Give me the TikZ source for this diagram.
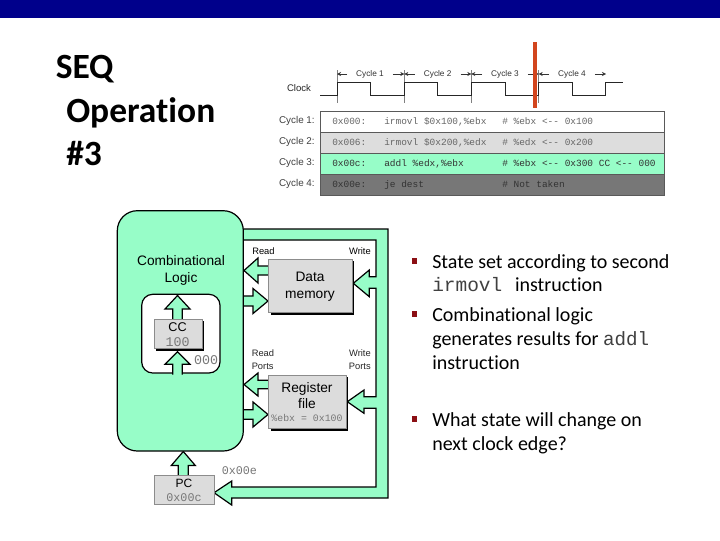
\documentclass[tikz,border=0pt]{standalone}
\usepackage{fontspec}
\setmainfont{Liberation Sans}
\setmonofont{Liberation Mono}
\newfontfamily\bodyfont[Ligatures={NoRequired,NoCommon,NoContextual}]{Carlito}
\definecolor{mint}{HTML}{97FDC8}
\definecolor{navy}{HTML}{00008B}
\definecolor{boxgray}{HTML}{DCDCDC}
\definecolor{rowgray}{HTML}{DDDDDD}
\definecolor{rowdark}{HTML}{777777}
\definecolor{monogray}{HTML}{777777}
\definecolor{clockred}{HTML}{D2451E}
\definecolor{bulletred}{HTML}{8B0F14}
\newcommand{\fs}[1]{\fontsize{#1}{#1}\selectfont}
% tip x, tip y, rotation, length, head length, head half width, shaft half width
\newcommand{\barrow}[7]{%
  \begin{scope}[shift={(#1,#2)},rotate=#3]
    \fill[mint] (0,0) -- (#5,-#6) -- (#5,-#7) -- (#4,-#7) -- (#4,#7) -- (#5,#7) -- (#5,#6) -- cycle;
    \draw[busline] (#4,-#7) -- (#5,-#7) -- (#5,-#6) -- (0,0) -- (#5,#6) -- (#5,#7) -- (#4,#7);
  \end{scope}}
\tikzset{
  x=0.75pt,y=-0.75pt,
  busline/.style={black,line width=0.9pt,line join=miter},
  title/.style={font=\bodyfont\bfseries\fs{26.6},anchor=base west,inner sep=0pt},
  body/.style={font=\bodyfont\fs{15},anchor=base west,inner sep=0pt},
  bullet/.style={fill=bulletred,minimum size=4.2pt,inner sep=0pt},
  rowbox/.style={draw=black!65,line width=0.5pt,minimum width=258pt,minimum height=15.75pt,anchor=north west,inner sep=0pt},
  rowlabel/.style={font=\fs{7.4},anchor=east,inner sep=0pt,text=black!75},
  code/.style={font=\ttfamily\fs{7.1},anchor=base west,inner sep=0pt,text=#1},
  code/.default=black!60,
  cyc/.style={font=\fs{6.2},inner sep=2.6pt,text=black!80},
  clk/.style={black!85,line width=0.7pt},
  tick/.style={black!50,line width=0.6pt},
  cycarrow/.style={black!80,line width=0.4pt,-{Stealth[length=3pt,width=3pt]}},
  graybox/.style={draw=black!45,line width=0.4pt,fill=boxgray,anchor=north west,inner sep=0pt},
  boxshadow/.style={fill=black,anchor=north west,inner sep=0pt},
  big/.style={font=\fs{10.3},align=center,inner sep=0pt},
  small/.style={font=\fs{7},inner sep=0pt,text=black!85},
  mono/.style={font=\ttfamily\fs{7.4},inner sep=0pt,text=monogray},
}
\usetikzlibrary{arrows.meta}
\begin{document}
\begin{tikzpicture}
\useasboundingbox (0,0) rectangle (720,540);
\fill[white] (0,0) rectangle (720,540);
\fill[navy] (0,0) rectangle (720,18);
% title
\node[title] (t1) at (55.5,78.5) {SEQ};
\node[title] (t2) at (66,122.5) {Operation};
\node[title] (t3) at (66,165) {\#3};
% rows
\node[rowbox,fill=white]    (r1) at (320,111) {};
\node[rowbox,fill=rowgray]  (r2) at (320,132) {};
\node[rowbox,fill=mint]     (r3) at (320,153) {};
\node[rowbox,fill=rowdark]  (r4) at (320,174) {};
\node[rowlabel] (l1) at (315,121) {Cycle 1:};
\node[rowlabel] (l2) at (315,142) {Cycle 2:};
\node[rowlabel] (l3) at (315,163) {Cycle 3:};
\node[rowlabel] (l4) at (315,184) {Cycle 4:};
\node[code] (a1) at (332,124.8) {0x000:};
\node[code] (b1) at (384,124.8) {irmovl \$0x100,\%ebx};
\node[code] (c1) at (502,124.8) {\# \%ebx <-{}- 0x100};
\node[code] (a2) at (332,145.8) {0x006:};
\node[code] (b2) at (384,145.8) {irmovl \$0x200,\%edx};
\node[code] (c2) at (502,145.8) {\# \%edx <-{}- 0x200};
\node[code=black!80] (a3) at (332,166.8) {0x00c:};
\node[code=black!80] (b3) at (384,166.8) {addl \%edx,\%ebx};
\node[code=black!80] (c3) at (502,166.8) {\# \%ebx <-{}- 0x300 CC <-{}- 000};
\node[code=black!80] (a4) at (332,187.8) {0x00e:};
\node[code=black!80] (b4) at (384,187.8) {je dest};
\node[code=black!80] (c4) at (502,187.8) {\# Not taken};
% clock
\node[font=\fs{7.2},inner sep=0pt,text=black!85] (clock) at (299,88) {Clock};
\foreach \n/\x in {1/337,2/404.3,3/471.3,4/538.7}
  \coordinate (tk\n) at (\x,74);
\coordinate (tk5) at (606,74);
\foreach \x in {337,404.3,471.3,538.7} \draw[tick] (\x,70) -- (\x,103);
\draw[clk] (320,95.3) -- (337,95.3) -- (337,82.3) -- (370.7,82.3) -- (370.7,95.3) -- (404.3,95.3) -- (404.3,82.3) -- (437.7,82.3) -- (437.7,95.3) -- (471.3,95.3) -- (471.3,82.3) -- (505,82.3) -- (505,95.3) -- (538.7,95.3) -- (538.7,82.3) -- (572.3,82.3) -- (572.3,95.3) -- (605.7,95.3) -- (605.7,82.3) -- (622.7,82.3);
\foreach \n/\x/\nn in {1/370/2,2/437.7/3,3/505/4,4/572/5}{
  \node[cyc] (cy\n) at (\x,74) {Cycle \n};
  \coordinate (cl\n) at ([xshift=-4pt]cy\n.west);
  \coordinate (cr\n) at ([xshift=4pt]cy\n.east);
  \draw[cycarrow] (cl\n) -- (tk\n);
  \draw[cycarrow] (cr\n) -- (tk\nn);
}
\fill[clockred] (533,42) rectangle (537,108);
% block arrows behind the logic block
\fill[mint] (240,229) -- (388,229) -- (388,498) -- (231.7,498) -- (231.7,505) -- (214,492.7) -- (231.7,481) -- (231.7,487) -- (376,487) -- (376,408.3) -- (364,408.3) -- (364,413.3) -- (347.3,401.7) -- (364,390) -- (364,396.7) -- (376,396.7) -- (376,288.3) -- (369.3,288.3) -- (369.3,296.7) -- (353.3,283.3) -- (369.3,270) -- (369.3,276.7) -- (376,276.7) -- (376,240) -- (240,240) -- cycle;
\draw[busline] (240,229) -- (388,229) -- (388,498) -- (231.7,498) -- (231.7,505) -- (214,492.7) -- (231.7,481) -- (231.7,487) -- (376,487) -- (376,408.3) -- (364,408.3) -- (364,413.3) -- (347.3,401.7) -- (364,390) -- (364,396.7) -- (376,396.7) -- (376,288.3) -- (369.3,288.3) -- (369.3,296.7) -- (353.3,283.3) -- (369.3,270) -- (369.3,276.7) -- (376,276.7) -- (376,240) -- (240,240);
\barrow{244}{270.5}{0}{26}{14}{12.5}{4.5}
\barrow{268}{301}{180}{28}{15}{12.5}{5}
\barrow{244}{384.5}{0}{26}{14}{11.5}{4.3}
\barrow{268}{414.5}{180}{28}{15}{12.5}{4.7}
\barrow{183.3}{451.5}{-90}{25}{14}{12}{5}
% logic block
\draw[busline,fill=mint,rounded corners=20*0.75pt] (117.3,210.7) rectangle (243.3,451);
\node[big] (logic) at (181,270.5) {Combinational\\[2.2pt]Logic};
\draw[busline,fill=white,rounded corners=11*0.75pt] (141.7,294.3) rectangle (220,373);
\fill[mint] (172.5,370) rectangle (182.5,376);
\barrow{177.5}{295.5}{-90}{25}{13.5}{12.5}{4.7}
\barrow{177.5}{351.7}{-90}{23}{12.5}{12.5}{4.7}
% CC
\node[boxshadow,minimum width=35.8pt,minimum height=22pt] (ccs) at (156,321) {};
\node[graybox,minimum width=35.8pt,minimum height=22pt] (cc) at (154,319) {};
\node[font=\fs{9.5},inner sep=0pt] (cct) at (177.5,327) {CC};
\node[mono,font=\ttfamily\fs{10}] (ccv) at (177.5,342.5) {100};
\node[mono,font=\ttfamily\fs{10}] (ccn) at (206,360) {000};
% data memory
\node[boxshadow,minimum width=62.5pt,minimum height=40pt] (dms) at (270.3,261) {};
\node[graybox,minimum width=62.5pt,minimum height=40pt] (dm) at (268.3,259) {};
\node[big] (dmt) at (310,286.5) {Data\\[2.2pt]memory};
\node[small,anchor=west,text=black] (rd) at (252,251) {Read};
\node[small,anchor=east,text=black] (wr) at (371,251) {Write};
\node[small,anchor=west,align=left] (rp) at (251.5,359.5) {Read\\[2.5pt]Ports};
\node[small,anchor=east,align=right] (wp) at (371,359.5) {Write\\[2.5pt]Ports};
% register file
\node[boxshadow,minimum width=58.3pt,minimum height=40.2pt] (rfs) at (270.3,376.7) {};
\node[graybox,minimum width=58.3pt,minimum height=40.2pt] (rf) at (268.3,374.7) {};
\node[big] (rft) at (307,395.5) {Register\\[2.2pt]file};
\node[mono] (rfv) at (307,418) {\%ebx = 0x100};
% PC
\node[graybox,minimum width=45pt,minimum height=22pt] (pc) at (154,475) {};
\node[font=\fs{9},inner sep=0pt] (pct) at (184,483) {PC};
\node[mono,font=\ttfamily\fs{8.8}] (pcv) at (184,497.5) {0x00c};
\node[mono,font=\ttfamily\fs{8.8},anchor=west] (pcn) at (221.5,470.7) {0x00e};
% bullets
\node[bullet] (bu1) at (414.5,261) {};
\node[bullet] (bu2) at (414.5,314) {};
\node[bullet] (bu3) at (414.5,419) {};
\node[body] (x1) at (432,268.3) {State set according to second};
\node[body] (x2) at (432,291.5) {{\ttfamily\fs{14.6}\color{black!75}irmovl}\hspace{9.5pt}instruction};
\node[body] (x3) at (432,321.7) {Combinational logic};
\node[body] (x4) at (432,345) {generates results for {\ttfamily\fs{14.4}\color{black!75}addl}};
\node[body] (x5) at (432,369) {instruction};
\node[body] (x6) at (432,426) {What state will change on};
\node[body] (x7) at (432,450.5) {next clock edge?};
\end{tikzpicture}
\end{document}
